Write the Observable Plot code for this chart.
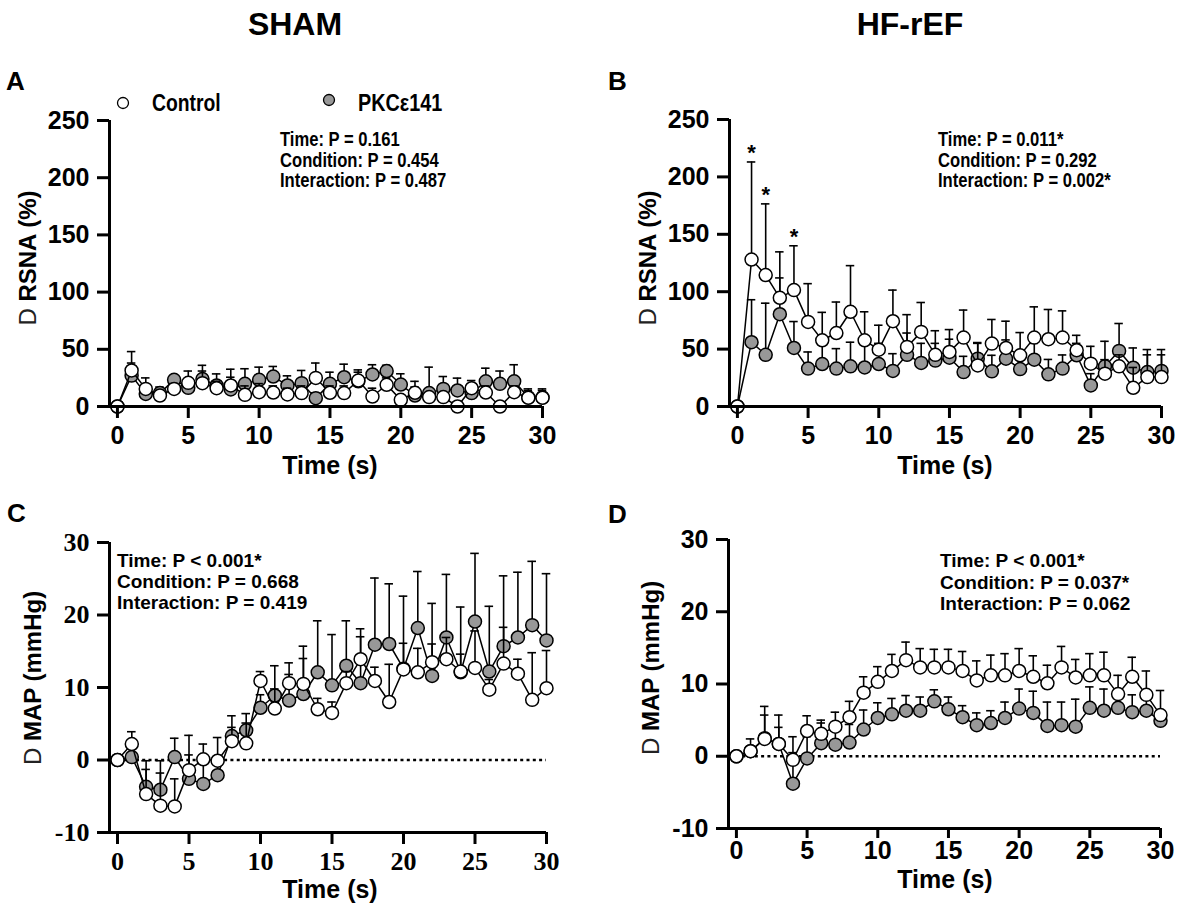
<!DOCTYPE html>
<html>
<head>
<meta charset="utf-8">
<script src="https://cdn.jsdelivr.net/npm/d3@7"></script>
<script src="https://cdn.jsdelivr.net/npm/@observablehq/plot@0.6"></script>
<style>
  html, body { margin: 0; padding: 0; background: #fff; overflow: hidden; }
  #root { position: relative; width: 1180px; height: 907px; background: #fff; }
  #root svg.panel { position: absolute; max-width: none; }
  #overlay { position: absolute; left: 0; top: 0; pointer-events: none; }
  .sans { font-family: "Liberation Sans", Arial, sans-serif; font-weight: bold; }
</style>
</head>
<body>
<div id="root"></div>
<script>
// ---------------- data ----------------
const time = [0,1,2,3,4,5,6,7,8,9,10,11,12,13,14,15,16,17,18,19,20,21,22,23,24,25,26,27,28,29,30];
const xTicks = [0,5,10,15,20,25,30];
const rsnaTicks = [0,50,100,150,200,250];
const mapTicks = [-10,0,10,20,30];

// A: SHAM, RSNA (%)
const shamRsnaCtrl   = [0,31.5,15.4,9.6,15.4,20.7,20.4,16,18.4,10.2,12.5,12.2,10.5,11.7,25,12,11.7,22.7,8.7,19,5.8,12,8.2,8.2,0,16,12.2,0,12.5,7.6,7.6];
const shamRsnaCtrlSd = [0,16.5,9.6,4.4,4.6,10.3,10.6,6,14.2,7.8,7.5,5.8,5.5,6.3,13,6,6.3,7.3,7.3,6,4.2,5,3.8,3.8,4,6.7,5.8,4,5.5,7.8,7.8];
const shamRsnaPkc    = [0,27,11,11.7,23.3,16.3,24,18.4,14.9,19.8,23.3,26.2,18.4,20.4,7.3,19.8,25.6,22,28,31,19.2,9.6,11.7,15.4,14,11.7,22,19.8,22,8,8];
const shamRsnaPkcSd  = [0,11,7,5.3,3.7,5.7,12,10.1,10.7,13.2,11.1,8.8,8.4,11.1,4.7,10.2,11.4,10,8.5,5,9.4,12.4,22.7,10.8,10.8,4.3,11.5,11.2,14.5,6,6];

// B: HF-rEF, RSNA (%)
const hfRsnaCtrl   = [0,128,114.5,94.7,101.4,73.7,57.7,64,82.5,57.7,49.5,74.3,51.9,65,45,47.5,60,35.8,54.8,51,44.6,60,58.6,60,49,37.3,28.6,35,16.3,25.6,25.6];
const hfRsnaCtrlSd = [0,85,62,40,38.6,33.3,24.3,27,40.2,24.8,21.3,27.1,28.1,25.6,21,19.5,24,19.2,21,23.3,19.8,26.8,25.9,23.3,13,15.1,12.2,10,17.7,19.4,19.4];
const hfRsnaPkc    = [0,56,45,80.4,51,33,37,33,35,34,37,31,45,38,40,42.5,30,41.7,30.6,41.7,32.6,40.8,28,33,44.6,18.4,35,48.4,33.8,30,31];
const hfRsnaPkcSd  = [0,37,45,31.6,23,14.5,18,17.4,21,21,18,15,19,17,15,16.1,13.7,14,14,16.3,11.4,14.2,13,11.9,10.4,10.2,21.8,23.9,17.2,19.6,18.6];
const hfRsnaStars  = [1,2,4];

// C: SHAM, MAP (mmHg)
const shamMapCtrl   = [0,2.2,-4.7,-6.3,-6.4,-1.4,0.1,-0.1,2.6,2.3,10.9,7.1,10.6,10.5,7,6.5,10.6,13.9,10.9,8,12.5,12.1,13.5,13.9,12.2,12.7,9.7,13.3,11.9,8.3,9.9];
const shamMapCtrlSd = [0,1.7,3.4,4.5,3.8,4.8,2.1,3.2,3.5,2.8,1.3,2.7,2.8,5.2,1.5,1.5,1.6,4.2,1.9,5.2,3.6,3.3,8.1,3,8.9,5.1,1.4,5,2,6.5,5.2];
const shamMapPkc    = [0,0.4,-3.7,-4.1,0.4,-2.6,-3.3,-2.1,3.3,4.1,7.2,8.9,8.2,9.1,12.1,10.3,13,10.6,15.9,16,12.6,18.2,11.6,16.9,12.1,19.1,12.2,15.7,16.9,18.6,16.5];
const shamMapPkcSd  = [0,0.6,3.6,4,2.6,3.3,2.8,2,1.2,2.3,1.8,4.1,3.6,4.9,7.1,7,6.2,6.4,9.2,8.3,10,7.8,4.4,8.7,2.5,9.4,9,9.7,9,8.8,9.2];

// D: HF-rEF, MAP (mmHg)
const hfMapCtrl   = [0,0.7,2.4,1.7,-0.5,3.5,3.1,4.1,5.4,8.8,10.3,11.8,13.3,12.3,12.3,12.3,11.8,10.5,11.2,11.2,11.8,11,10.1,12.3,10.9,11.2,11.2,8.6,11,8.5,5.7];
const hfMapCtrlSd = [0,1.7,4.5,4,1,2.1,1.9,2,2.2,2.2,2.1,2.3,2.5,2.6,2.5,2.5,2.7,2.7,2.8,3,3.1,2.9,2.5,2.9,2.5,3,3.2,2.6,2.7,3.3,3.4];
const hfMapPkc    = [0,0.7,2.5,1.7,-3.8,-0.3,1.8,1.6,1.9,3.7,5.3,5.8,6.3,6.3,7.6,6.5,5.4,4.3,4.6,5.3,6.6,6,4.2,4.3,4.1,6.7,6.3,6.7,6.1,6.3,4.9];
const hfMapPkcSd  = [0,0.5,3.2,2.3,6.5,3,2.8,2.5,2.5,2.7,2.1,2.2,2.1,1.9,1.6,1.7,1.6,1.7,1.7,2.2,2.7,3,3.3,3.2,3.8,2.9,3,1.7,2.4,1.7,1.1];

// labels
const groupTitles = ["SHAM", "HF-rEF"];
const panelLetters = ["A", "B", "C", "D"];
const seriesNames = ["Control", "PKCε141"];
const statsA = ["Time: P = 0.161", "Condition: P = 0.454", "Interaction: P = 0.487"];
const statsB = ["Time: P = 0.011*", "Condition: P = 0.292", "Interaction: P = 0.002*"];
const statsC = ["Time: P < 0.001*", "Condition: P = 0.668", "Interaction: P = 0.419"];
const statsD = ["Time: P < 0.001*", "Condition: P = 0.037*", "Interaction: P = 0.062"];
const xTitle = "Time (s)";
const yTitleRsna = ["D", " RSNA (%)"];
const yTitleMap = ["D", " MAP (mmHg)"];

// ---------------- drawing ----------------
const GRAY = "#989898";
const SANS = "'Liberation Sans', Arial, sans-serif";
const SERIF = "'Liberation Serif', 'Times New Roman', serif";

function rows(m, sd) { return time.map((t, i) => ({t, m: m[i], sd: sd[i]})); }

function panel(o) {
  const ctrl = rows(o.ctrl, o.ctrlSd);
  const pkc = rows(o.pkc, o.pkcSd);
  const xDomain = [-0.56, 30];
  const seriesMarks = (data, fill) => [
    Plot.ruleX(data.filter(d => d.sd > 0), {x: "t", y1: "m", y2: d => d.m + d.sd, stroke: "black", strokeWidth: 1.6}),
    Plot.ruleY(data.filter(d => d.sd > 0), {y: d => d.m + d.sd, x1: d => d.t - 0.3, x2: d => d.t + 0.3, stroke: "black", strokeWidth: 1.6}),
    Plot.line(data, {x: "t", y: "m", stroke: "black", strokeWidth: 1.5}),
    Plot.dot(data, {x: "t", y: "m", r: 6.5, fill, stroke: "black", strokeWidth: 1.5})
  ];
  const marks = [];
  if (o.zero) marks.push(Plot.ruleY([0], {x1: 0, x2: 30, stroke: "black", strokeWidth: 2.5, strokeDasharray: "3,3.3"}));
  marks.push(...seriesMarks(pkc, GRAY));
  marks.push(...seriesMarks(ctrl, "white"));
  if (o.stars) {
    const starRows = ctrl.filter(d => o.stars.includes(d.t));
    marks.push(Plot.text(starRows, {x: "t", y: d => d.m + d.sd, text: () => "*", dy: -9, fontSize: 22, fontWeight: "bold", fontFamily: SANS}));
  }
  marks.push(
    Plot.ruleX([xDomain[0]], {y1: o.yDomain[0], y2: o.yDomain[1], stroke: "black", strokeWidth: 3}),
    Plot.ruleY([o.yDomain[0]], {x1: xDomain[0], x2: 30, stroke: "black", strokeWidth: 3}),
    Plot.axisX(xTicks, {tickSize: o.xTickSize, tickPadding: o.xPad, strokeWidth: 3, fontSize: o.tickSize, fontWeight: "bold", fontFamily: o.tickFont, label: null, tickFormat: d => String(d)}),
    Plot.axisY(o.yTicks, {tickSize: 12, tickPadding: 8, strokeWidth: 3, fontSize: o.tickSize, fontWeight: "bold", fontFamily: o.tickFont, label: null, tickFormat: d => String(d)})
  );
  const svg = Plot.plot({
    width: o.width, height: o.height,
    marginLeft: o.ml, marginRight: o.mr, marginTop: o.mt, marginBottom: o.mb,
    x: {domain: xDomain},
    y: {domain: o.yDomain},
    style: {background: "transparent", color: "black", overflow: "visible",
            fontSize: o.tickSize + "px", fontFamily: o.tickFont, fontWeight: "bold"},
    marks
  });
  svg.classList.add("panel");
  svg.style.left = o.left + "px";
  svg.style.top = o.top + "px";
  return svg;
}

const root = document.getElementById("root");

// A
root.appendChild(panel({ctrl: shamRsnaCtrl, ctrlSd: shamRsnaCtrlSd, pkc: shamRsnaPkc, pkcSd: shamRsnaPkcSd,
  yDomain: [0, 250], yTicks: rsnaTicks, left: 0, top: 100, width: 590, height: 350, ml: 109, mr: 48, mt: 20, mb: 44,
  tickFont: SANS, tickSize: 25, xTickSize: 12, xPad: 8}));
// B
root.appendChild(panel({ctrl: hfRsnaCtrl, ctrlSd: hfRsnaCtrlSd, pkc: hfRsnaPkc, pkcSd: hfRsnaPkcSd, stars: hfRsnaStars,
  yDomain: [0, 250], yTicks: rsnaTicks, left: 620, top: 100, width: 560, height: 350, ml: 109, mr: 19, mt: 19, mb: 44,
  tickFont: SANS, tickSize: 25, xTickSize: 12, xPad: 8}));
// C
root.appendChild(panel({ctrl: shamMapCtrl, ctrlSd: shamMapCtrlSd, pkc: shamMapPkc, pkcSd: shamMapPkcSd, zero: true,
  yDomain: [-10, 30], yTicks: mapTicks, left: 0, top: 520, width: 590, height: 360, ml: 109, mr: 44, mt: 22, mb: 48,
  tickFont: SERIF, tickSize: 26, xTickSize: 12, xPad: 7}));
// D
root.appendChild(panel({ctrl: hfMapCtrl, ctrlSd: hfMapCtrlSd, pkc: hfMapPkc, pkcSd: hfMapPkcSd, zero: true,
  yDomain: [-10, 30], yTicks: mapTicks, left: 620, top: 520, width: 560, height: 350, ml: 108, mr: 20, mt: 19, mb: 42,
  tickFont: SANS, tickSize: 25, xTickSize: 10, xPad: 3}));

// ---------------- text overlay ----------------
const ov = d3.select(root).append("svg").attr("id", "overlay").attr("width", 1180).attr("height", 907);

function txt(x, y, s, size, anchor = "start", squeeze = 1) {
  const t = ov.append("text").attr("x", x).attr("y", y).attr("class", "sans")
    .attr("font-size", size).attr("text-anchor", anchor).attr("fill", "black").text(s);
  if (squeeze !== 1) {
    const len = t.node().getComputedTextLength();
    t.attr("textLength", len * squeeze).attr("lengthAdjust", "spacingAndGlyphs");
  }
  return t;
}
txt(295, 35, groupTitles[0], 32, "middle");
txt(910, 35, groupTitles[1], 32, "middle");
txt(6, 90, panelLetters[0], 26);
txt(608, 90, panelLetters[1], 26);
txt(7, 522, panelLetters[2], 26);
txt(608, 523, panelLetters[3], 26);

// legend
ov.append("circle").attr("cx", 123).attr("cy", 103).attr("r", 5.5).attr("fill", "white").attr("stroke", "black").attr("stroke-width", 1.3);
ov.append("circle").attr("cx", 329).attr("cy", 100).attr("r", 5.5).attr("fill", GRAY).attr("stroke", "black").attr("stroke-width", 1.3);
txt(152, 111, seriesNames[0], 23, "start", 0.84);
txt(358, 111, seriesNames[1], 23, "start", 0.86);

// stats
statsA.forEach((s, i) => txt(280, 146 + i * 20.5, s, 20, "start", 0.83));
statsB.forEach((s, i) => txt(938, 146 + i * 20.5, s, 20, "start", 0.83));
statsC.forEach((s, i) => txt(117, 567 + i * 21, s, 19));
statsD.forEach((s, i) => txt(940, 567 + i * 21.5, s, 19));

// x titles
txt(330, 474, xTitle, 25, "middle");
txt(945, 474, xTitle, 25, "middle");
txt(330, 898, xTitle, 25, "middle");
txt(945, 888, xTitle, 25, "middle");

// y titles
function ytitle(cx, cy, parts) {
  const t = ov.append("text").attr("transform", `translate(${cx},${cy}) rotate(-90)`)
    .attr("text-anchor", "middle").attr("dy", "0.35em").attr("font-size", 24)
    .attr("font-family", SANS).attr("fill", "black");
  t.append("tspan").attr("font-weight", "normal").attr("fill", "#222").text(parts[0]);
  t.append("tspan").attr("font-weight", "bold").text(parts[1]);
}
ytitle(28, 258, yTitleRsna);
ytitle(648, 258, yTitleRsna);
ytitle(33, 678, yTitleMap);
ytitle(651, 668, yTitleMap);
</script>
</body>
</html>
